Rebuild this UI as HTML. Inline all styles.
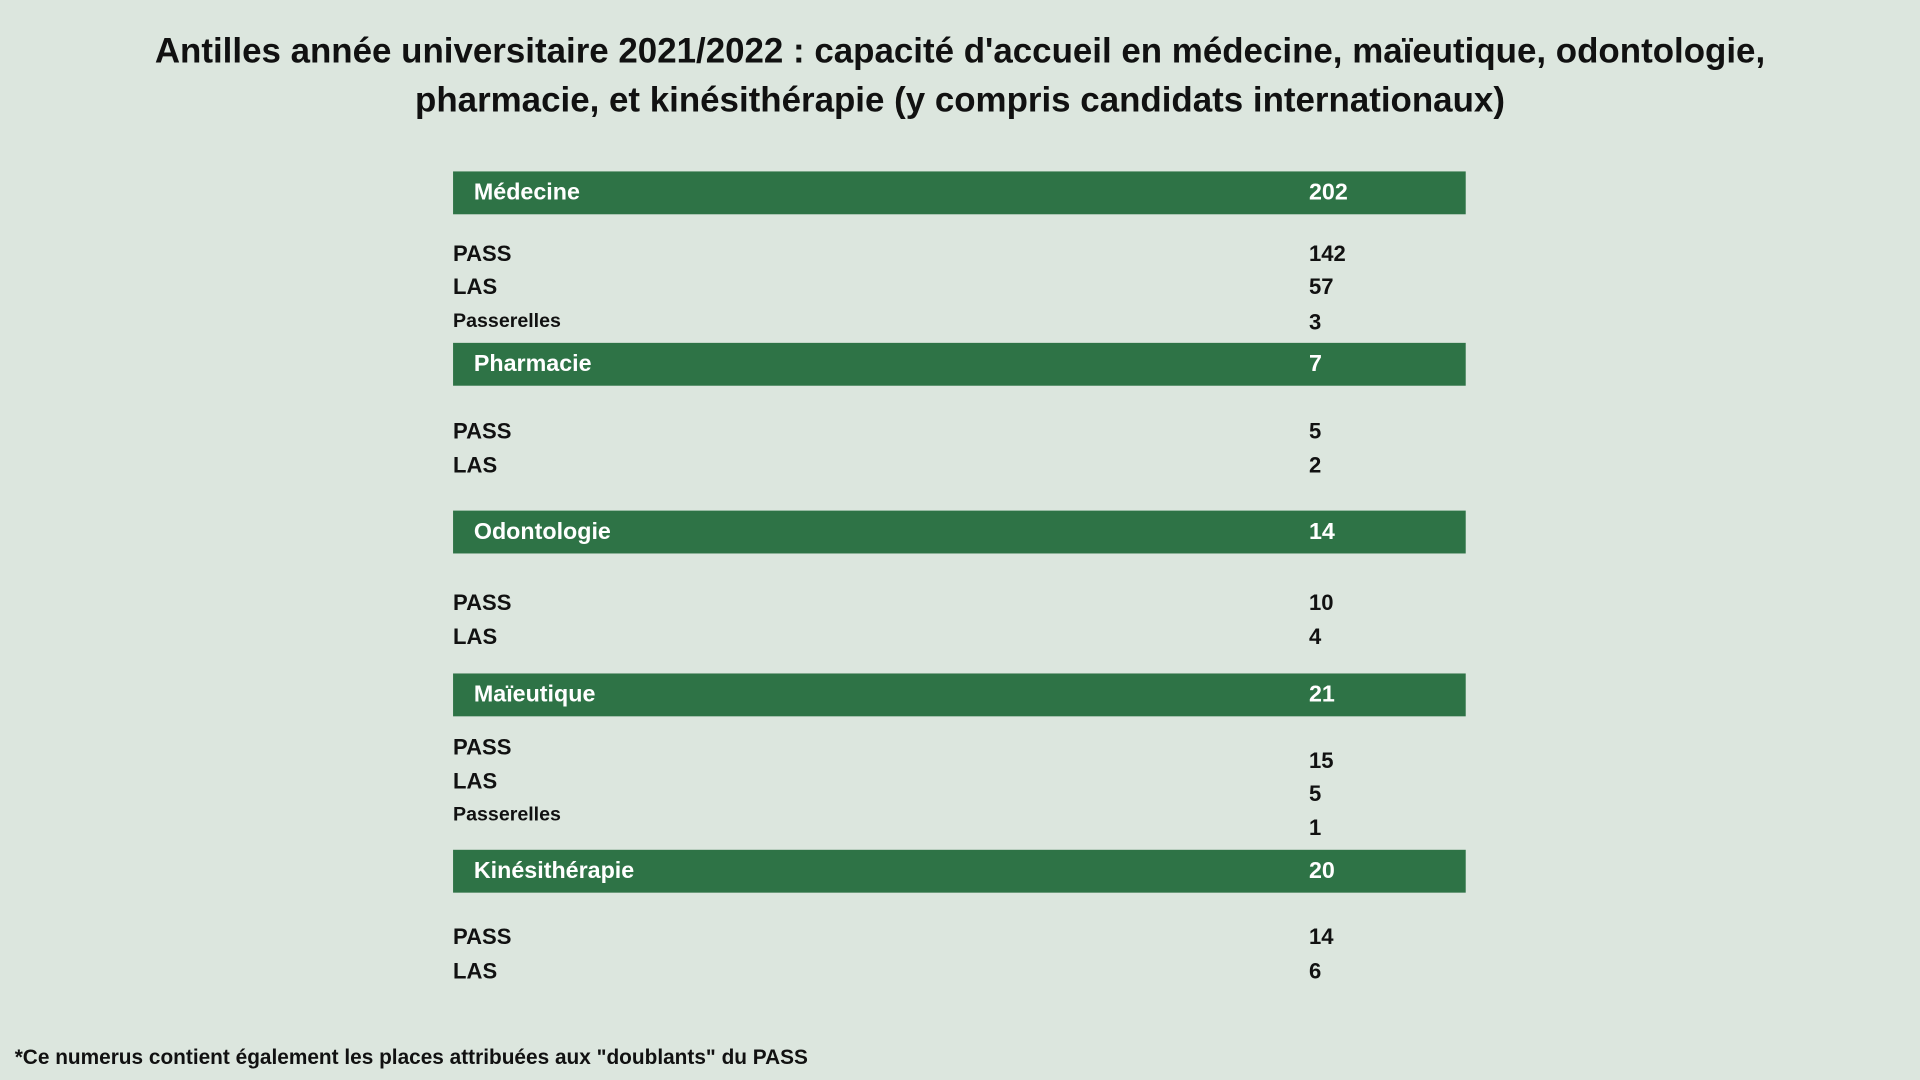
<!DOCTYPE html>
<html><head><meta charset="utf-8"><style>
html,body{margin:0;padding:0;width:1920px;height:1080px;overflow:hidden;background:#dce6de;}
#wrap{position:absolute;left:0;top:0;width:1568px;height:882px;transform:scale(1.22449);transform-origin:0 0;font-family:"Liberation Sans",sans-serif;}
.t{position:absolute;left:0;width:1568px;text-align:center;font-weight:bold;font-size:28.5px;color:#111;}
.bar{position:absolute;left:370px;width:827px;height:35px;background:#2e7346;}
.bl,.bv{position:absolute;top:0;line-height:36px;color:#fff;font-weight:bold;font-size:19px;}
.bl{left:17px}.bv{left:699px}
.r{position:absolute;font-weight:bold;font-size:18px;color:#111;line-height:20px;transform:translateY(-10px);}
.s{font-size:16px}
</style></head><body>
<div id="wrap">
<div class="t" style="top:26px">Antilles année universitaire 2021/2022 : capacité d'accueil en médecine, maïeutique, odontologie,</div>
<div class="t" style="top:66px">pharmacie, et kinésithérapie (y compris candidats internationaux)</div>
<div id="rows"></div>
<div class="r" style="left:12px;top:864px;font-size:17px">*Ce numerus contient également les places attribuées aux "doublants" du PASS</div>
</div>
<script>
const sections=["Médecine","Pharmacie","Odontologie","Maïeutique","Kinésithérapie"];
const totals=[202,7,14,21,20];
const barTops=[140,280,417,550,694];
const subLabels=[["PASS","LAS","Passerelles"],["PASS","LAS"],["PASS","LAS"],["PASS","LAS","Passerelles"],["PASS","LAS"]];
const subValues=[[142,57,3],[5,2],[10,4],[15,5,1],[14,6]];
const labelY=[[207,234,263],[352,380],[492,520],[610,638,666],[765,793]];
const valueY=[[207,234,263],[352,380],[492,520],[621,648,676],[765,793]];
const root=document.getElementById('rows');
sections.forEach((s,i)=>{
  const b=document.createElement('div');b.className='bar';b.style.top=barTops[i]+'px';
  
  
  b.innerHTML='<div class="bl">'+s+'</div><div class="bv">'+totals[i]+'</div>';
  root.appendChild(b);
  subLabels[i].forEach((l,j)=>{
    const a=document.createElement('div');a.className='r'+(l==='Passerelles'?' s':'');
    a.style.left='370px';a.style.top=labelY[i][j]+'px';a.textContent=l;
    
    
    root.appendChild(a);
    const v=document.createElement('div');v.className='r';
    v.style.left='1069px';v.style.top=valueY[i][j]+'px';v.textContent=subValues[i][j];
    
    
    root.appendChild(v);
  });
});
</script>
</body></html>
